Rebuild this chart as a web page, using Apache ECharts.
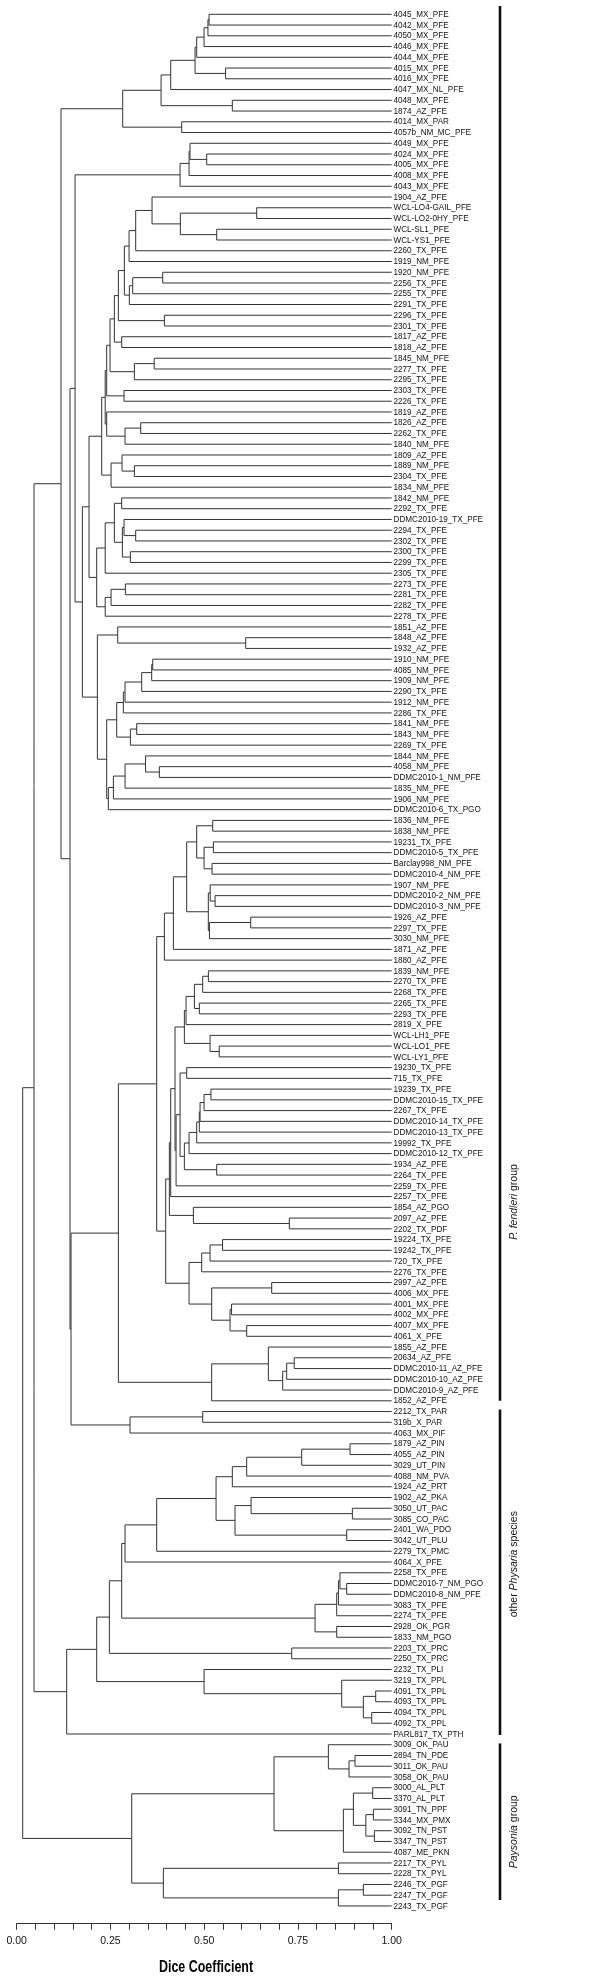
<!DOCTYPE html>
<html><head><meta charset="utf-8">
<script src="https://cdn.jsdelivr.net/npm/echarts@6/dist/echarts.min.js"></script>
<style>html,body{margin:0;padding:0;background:#fff}#c{width:607px;height:1979px}</style>
</head><body><div id="c"></div>
<script>
// ---------- DATA ----------
const leafLabels = [
'4045_MX_PFE','4042_MX_PFE','4050_MX_PFE','4046_MX_PFE','4044_MX_PFE','4015_MX_PFE','4016_MX_PFE','4047_MX_NL_PFE','4048_MX_PFE','1874_AZ_PFE',
'4014_MX_PAR','4057b_NM_MC_PFE','4049_MX_PFE','4024_MX_PFE','4005_MX_PFE','4008_MX_PFE','4043_MX_PFE','1904_AZ_PFE','WCL-LO4-GAIL_PFE','WCL-LO2-0HY_PFE',
'WCL-SL1_PFE','WCL-YS1_PFE','2260_TX_PFE','1919_NM_PFE','1920_NM_PFE','2256_TX_PFE','2255_TX_PFE','2291_TX_PFE','2296_TX_PFE','2301_TX_PFE',
'1817_AZ_PFE','1818_AZ_PFE','1845_NM_PFE','2277_TX_PFE','2295_TX_PFE','2303_TX_PFE','2226_TX_PFE','1819_AZ_PFE','1826_AZ_PFE','2262_TX_PFE',
'1840_NM_PFE','1809_AZ_PFE','1889_NM_PFE','2304_TX_PFE','1834_NM_PFE','1842_NM_PFE','2292_TX_PFE','DDMC2010-19_TX_PFE','2294_TX_PFE','2302_TX_PFE',
'2300_TX_PFE','2299_TX_PFE','2305_TX_PFE','2273_TX_PFE','2281_TX_PFE','2282_TX_PFE','2278_TX_PFE','1851_AZ_PFE','1848_AZ_PFE','1932_AZ_PFE',
'1910_NM_PFE','4085_NM_PFE','1909_NM_PFE','2290_TX_PFE','1912_NM_PFE','2286_TX_PFE','1841_NM_PFE','1843_NM_PFE','2269_TX_PFE','1844_NM_PFE',
'4058_NM_PFE','DDMC2010-1_NM_PFE','1835_NM_PFE','1906_NM_PFE','DDMC2010-6_TX_PGO','1836_NM_PFE','1838_NM_PFE','19231_TX_PFE','DDMC2010-5_TX_PFE','Barclay998_NM_PFE',
'DDMC2010-4_NM_PFE','1907_NM_PFE','DDMC2010-2_NM_PFE','DDMC2010-3_NM_PFE','1926_AZ_PFE','2297_TX_PFE','3030_NM_PFE','1871_AZ_PFE','1880_AZ_PFE','1839_NM_PFE',
'2270_TX_PFE','2268_TX_PFE','2265_TX_PFE','2293_TX_PFE','2819_X_PFE','WCL-LH1_PFE','WCL-LO1_PFE','WCL-LY1_PFE','19230_TX_PFE','715_TX_PFE',
'19239_TX_PFE','DDMC2010-15_TX_PFE','2267_TX_PFE','DDMC2010-14_TX_PFE','DDMC2010-13_TX_PFE','19992_TX_PFE','DDMC2010-12_TX_PFE','1934_AZ_PFE','2264_TX_PFE','2259_TX_PFE',
'2257_TX_PFE','1854_AZ_PGO','2097_AZ_PFE','2202_TX_PDF','19224_TX_PFE','19242_TX_PFE','720_TX_PFE','2276_TX_PFE','2997_AZ_PFE','4006_MX_PFE',
'4001_MX_PFE','4002_MX_PFE','4007_MX_PFE','4061_X_PFE','1855_AZ_PFE','20634_AZ_PFE','DDMC2010-11_AZ_PFE','DDMC2010-10_AZ_PFE','DDMC2010-9_AZ_PFE','1852_AZ_PFE',
'2212_TX_PAR','319b_X_PAR','4063_MX_PIF','1879_AZ_PIN','4055_AZ_PIN','3029_UT_PIN','4088_NM_PVA','1924_AZ_PRT','1902_AZ_PKA','3050_UT_PAC',
'3085_CO_PAC','2401_WA_PDO','3042_UT_PLU','2279_TX_PMC','4064_X_PFE','2258_TX_PFE','DDMC2010-7_NM_PGO','DDMC2010-8_NM_PFE','3083_TX_PFE','2274_TX_PFE',
'2928_OK_PGR','1833_NM_PGO','2203_TX_PRC','2250_TX_PRC','2232_TX_PLI','3219_TX_PPL','4091_TX_PPL','4093_TX_PPL','4094_TX_PPL','4092_TX_PPL',
'PARL817_TX_PTH','3009_OK_PAU','2894_TN_PDE','3011_OK_PAU','3058_OK_PAU','3000_AL_PLT','3370_AL_PLT','3091_TN_PPF','3344_MX_PMX','3092_TN_PST',
'3347_TN_PST','4087_ME_PKN','2217_TX_PYL','2228_TX_PYL','2246_TX_PGF','2247_TX_PGF','2243_TX_PGF'
];

// Tree nodes: [Dice similarity of merge, child, child, ...]; leaves are 1-based positions in leafLabels
const cladeMX = [0.2827, [0.385, [0.4107, [0.4756, [0.48, [0.4996, [0.51, [0.513, 1, 2], 3], 4], 5], [0.557, 6, 7]], 8], [0.575, 9, 10]], [0.44, 11, 12]];
const cladeMX2 = [0.4356, [0.4596, [0.4622, 13, [0.5067, 14, 15]], 16], 17];
const cladeA = [0.2996, [0.3173, [0.3609, 18, [0.4364, [0.64, 19, 20], [0.5333, 21, 22]]], 23], 24];
const cladeB = [0.3004, [0.3093, [0.3893, 25, 26], 27], 28];
const cladeC = [0.236,
  [0.24, [0.2489, [0.2604, [0.2711, [0.2871, cladeA, cladeB], [0.3938, 29, 30]], [0.28, 31, 32]], [0.3138, [0.3667, 33, 34], 35]], [0.2862, 36, 37]],
  [0.24, 38, [0.2889, [0.3307, 39, 40], 41]]];
const cladeD = [0.2516, [0.2809, 42, [0.3138, 43, 44]], 45];
const cladeE = [0.236, [0.2604, [0.28, 46, 47], [0.2818, [0.2862, 48, [0.3173, 49, 50]], [0.3031, 51, 52]]], 53];
const cladeF = [0.236, [0.2516, [0.2898, 54, 55], 56], 57];
const cladeG = [0.2667, [0.2844, [0.2889, [0.3333, [0.36, [0.3627, 61, 62], 63], 64], 65], 66], [0.3031, [0.32, 67, 68], 69]];
const cladeH = [0.2444, [0.2578, [0.2889, [0.3436, 70, [0.3804, 71, 72]], 73], 74], 75];
const cladeI = [0.1751, [0.1929, [0.2267, cladeC, cladeD], [0.2133, cladeE, cladeF]],
  [0.2151, [0.2693, 58, [0.6107, 59, 60]], [0.24, cladeG, cladeH]]];
const cladeJ = [0.4533,
  [0.48, [0.5227, 76, 77], [0.4996, [0.5244, 78, 79], [0.5209, 80, 81]]],
  [0.511, [0.516, 82, [0.529, 83, 84]], [0.514, [0.624, 85, 86], 87]]];
const cladeK = [0.4471, [0.4516, [0.4738, [0.496, [0.5111, 90, 91], 92], [0.487, 93, 94]], 95], [0.5156, 96, [0.54, 97, 98]]];
const cladeL = [0.4596, [0.48, [0.487, [0.489, [0.4996, [0.518, 101, 102], 103], 104], 105], 106], 107];
const cladeM = [0.4071,
  [0.4107, [0.4222, cladeK, [0.425, [0.4356, [0.4533, 99, 100], [0.4471, cladeL, [0.5333, 108, 109]]], 110]], 111],
  [0.4711, 112, [0.727, 113, 114]]];
const cladeN = [0.4596, [0.4933, [0.5156, [0.549, 115, 116], 117], 118],
  [0.52, [0.68, 119, 120], [0.5689, [0.573, 121, 122], [0.6133, 123, 124]]]];
const cladeO = [0.52, [0.6711, 125, [0.7093, [0.72, [0.74, 126, 127], 128], 129]], 130];
const cladeP = [0.3022, [0.496, 131, 132], 133];
const cladeQ = [0.5316, [0.575, [0.6133, [0.76, [0.8889, 134, 135], 136], 137], 138],
  [0.5822, [0.625, 139, [0.8951, 140, 141]], [0.88, 142, 143]]];
const cladeR = [0.7956, [0.8533, [0.858, [0.862, 146, [0.88, 147, 148]], 149], 150], [0.8533, 151, 152]];
const cladeS = [0.4996, 155, [0.8667, 156, [0.9244, [0.9573, 157, 158], [0.9467, 159, 160]]]];
const cladeOther = [0.1333, [0.2133, [0.2471, [0.28, [0.2889, [0.3733, cladeQ, 144], 145], cladeR], [0.7333, 153, 154]], cladeS], 161];
const cladePaysonia = [0.3067,
  [0.6862, [0.8311, 162, [0.8862, [0.9022, 163, 164], 165]],
           [0.8711, [0.8978, [0.9493, 166, 167], [0.9311, [0.9511, 168, 169], [0.9538, 170, 171]]], 172]],
  [0.3911, [0.8578, 173, 174], [0.8578, [0.9244, 175, 176], 177]]];
const fendleri = [0.1182, cladeMX,
  [0.1422, [0.1556, cladeMX2, cladeI],
           [0.1449, [0.2711, [0.3733, [0.3938, [0.4178, cladeJ, 88], 89], [0.3973, cladeM, cladeN]], cladeO], cladeP]]];
const tree = [0.016, [0.0462, fendleri, cladeOther], cladePaysonia];

const groupNames = ['{i|P. fendleri}{n| group}', '{n|other }{i|Physaria}{n| species}', '{i|Paysonia}{n| group}'];
const groupFirstLeaf = [1, 131, 162];
const groupLastLeaf = [130, 161, 177];

const xTickValues = [0, 0.25, 0.5, 0.75, 1];

// ---------- LAYOUT OF TREE (in data units) ----------
const segments = [];
function walk(node) {
  if (typeof node === 'number') return { x: 1, y: node - 1 };
  const h = node[0];
  const kids = node.slice(1).map(walk);
  kids.forEach(k => segments.push([h, k.y, k.x, k.y]));
  segments.push([h, kids[0].y, h, kids[kids.length - 1].y]);
  return { x: h, y: (kids[0].y + kids[kids.length - 1].y) / 2 };
}
walk(tree);

const groupPad = [[-0.77, 0], [-0.2, 0.1], [-0.12, -0.55]];
const groupLabelAt = [110.5, 144.2, 169.1];
const groupData = groupNames.map((n, i) => [1, groupFirstLeaf[i] - 1 + groupPad[i][0], groupLastLeaf[i] - 1 + groupPad[i][1], groupLabelAt[i]]);
const leafData = leafLabels.map((l, i) => [1, i]);

const SANS = "'Liberation Sans',Arial,sans-serif";

const chart = echarts.init(document.getElementById('c'), null, { renderer: 'canvas' });
chart.setOption({
  animation: false,
  backgroundColor: '#fff',
  grid: { left: 16.7, width: 375, top: 8.93, height: 1902.4, containLabel: false },
  xAxis: {
    type: 'value', min: 0, max: 1, interval: 0.05, offset: 12.4,
    axisLine: { show: true, onZero: false, lineStyle: { color: '#333', width: 1 } },
    axisTick: { show: true, length: 6, lineStyle: { color: '#333', width: 1 } },
    splitLine: { show: false },
    axisLabel: {
      margin: 12, fontSize: 10.5, color: '#111', fontFamily: SANS,
      formatter: v => xTickValues.some(t => Math.abs(t - v) < 1e-6) ? v.toFixed(2) : ''
    }
  },
  yAxis: { type: 'value', min: -0.5, max: 176.5, inverse: true, show: false },
  graphic: [{
    type: 'text', x: 206, y: 1967.5, scaleX: 0.755,
    style: { text: 'Dice Coefficient', align: 'center', verticalAlign: 'middle', fill: '#000',
      font: "bold 16.5px 'Liberation Sans', Arial, sans-serif" }
  }],
  series: [
    {
      type: 'custom', coordinateSystem: 'cartesian2d', clip: false,
      data: segments, encode: { x: [0, 2], y: [1, 3] },
      renderItem: (params, api) => {
        const p1 = api.coord([api.value(0), api.value(1)]);
        const p2 = api.coord([api.value(2), api.value(3)]);
        return { type: 'line', shape: { x1: p1[0], y1: p1[1], x2: p2[0], y2: p2[1] },
                 style: { stroke: '#333', lineWidth: 1 } };
      }
    },
    {
      type: 'custom', coordinateSystem: 'cartesian2d', clip: false,
      data: leafData, encode: { x: 0, y: 1 },
      renderItem: (params, api) => {
        const p = api.coord([api.value(0), api.value(1)]);
        return { type: 'text', x: p[0] + 1.8, y: p[1], scaleX: 0.84,
          style: { text: leafLabels[params.dataIndex], align: 'left', verticalAlign: 'middle', fill: '#111',
            font: "9.7px 'Liberation Sans', Arial, sans-serif" } };
      }
    },
    {
      type: 'custom', coordinateSystem: 'cartesian2d', clip: false,
      data: groupData, encode: { x: 0, y: [1, 2, 3] },
      renderItem: (params, api) => {
        const i = params.dataIndex;
        const right = api.coord([api.value(0), 0])[0];
        const bx = right + 108.3;
        const y1 = api.coord([1, api.value(1)])[1];
        const y2 = api.coord([1, api.value(2)])[1];
        const yl = api.coord([1, api.value(3)])[1];
        return { type: 'group', children: [
          { type: 'line', shape: { x1: bx, y1: y1, x2: bx, y2: y2 }, style: { stroke: '#111', lineWidth: 2.6 } },
          { type: 'text', x: bx + 14.5, y: yl, rotation: Math.PI / 2,
            style: { text: groupNames[i], align: 'center', verticalAlign: 'middle', fill: '#111',
              fontSize: 10.5, fontFamily: SANS,
              rich: { i: { fontStyle: 'italic', fontSize: 10.5, fontFamily: SANS, fill: '#111' },
                      n: { fontSize: 10.5, fontFamily: SANS, fill: '#111' } } } }
        ] };
      }
    }
  ]
});
</script></body></html>
